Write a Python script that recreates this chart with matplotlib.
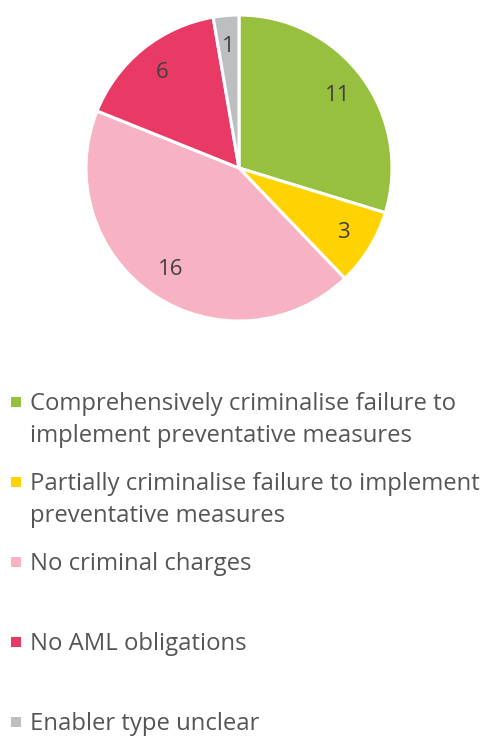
import matplotlib
matplotlib.use("Agg")
import matplotlib.pyplot as plt
from matplotlib.patches import Rectangle

categories = [
    "Comprehensively criminalise failure to\nimplement preventative measures",
    "Partially criminalise failure to implement\npreventative measures",
    "No criminal charges",
    "No AML obligations",
    "Enabler type unclear",
]
values = [11, 3, 16, 6, 1]
colors = ["#96C03D", "#FFD200", "#F7B2C4", "#E83A65", "#BDBEC0"]

W, H = 484, 736
fig = plt.figure(figsize=(W / 100, H / 100), dpi=100)
plt.rcParams['font.family'] = ['Open Sans', 'DejaVu Sans']

cx, cy, r = 239, 168, 153
ax = fig.add_axes([(cx - r) / W, 1 - (cy + r) / H, 2 * r / W, 2 * r / H])
wedges, texts = ax.pie(values, colors=colors, startangle=90, counterclock=False,
                       labels=[str(v) for v in values], labeldistance=0.8,
                       wedgeprops=dict(edgecolor="white", linewidth=2.2),
                       textprops=dict(fontsize=16, color="#404040"))
for t in texts:
    t.set_horizontalalignment("center")
    t.set_verticalalignment("center")
ax.set_xlim(-1.0, 1.0)
ax.set_ylim(-1.0, 1.0)
ax.set_aspect("equal")
ax.axis("off")

# legend
row_base = [410, 490, 570, 650, 730]
for lab, col, yb in zip(categories, colors, row_base):
    yc = yb - 8
    fig.patches.append(Rectangle((11 / W, 1 - (yc + 5) / H), 10 / W, 10 / H,
                                 transform=fig.transFigure, facecolor=col,
                                 edgecolor="none"))
    for i, line in enumerate(lab.split("\n")):
        fig.text(30 / W, 1 - (yb + 32 * i) / H, line, fontsize=17.2,
                 color="#555555", ha="left", va="baseline")

fig.savefig("out.png", dpi=100)
